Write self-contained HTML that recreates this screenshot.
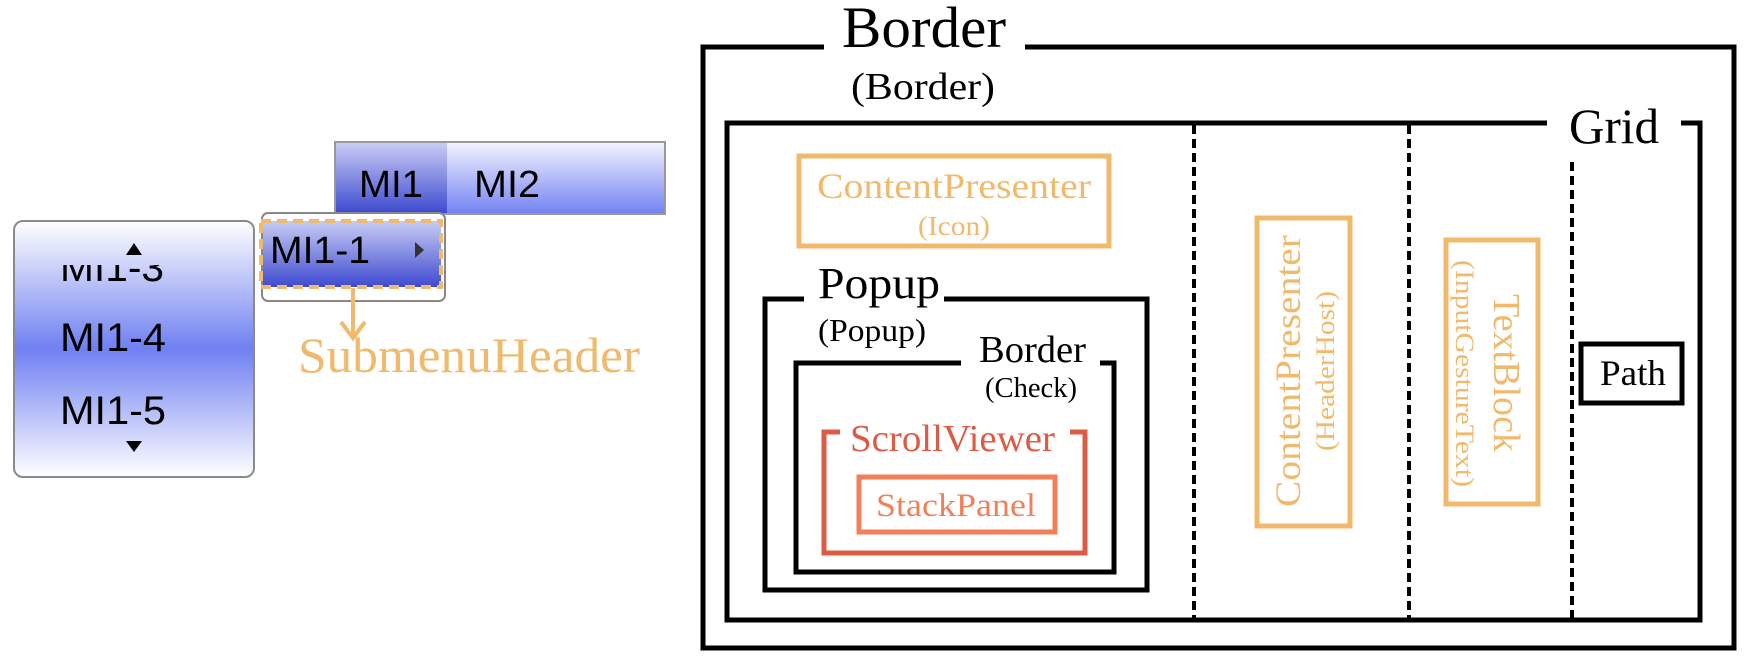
<!DOCTYPE html>
<html><head><meta charset="utf-8"><style>
html,body{margin:0;padding:0;background:#fff;}
svg{display:block;}
text{font-family:"Liberation Serif",serif;}
.m{font-family:"Liberation Sans",sans-serif;}
</style></head><body>
<svg width="1751" height="663" viewBox="0 0 1751 663" xmlns="http://www.w3.org/2000/svg">
<defs>
<linearGradient id="g1" x1="0" y1="0" x2="0" y2="1">
<stop offset="0" stop-color="#f4f4ff"/><stop offset="1" stop-color="#7282f2"/></linearGradient>
<linearGradient id="g2" x1="0" y1="0" x2="0" y2="1">
<stop offset="0" stop-color="#c8ccf4"/><stop offset="1" stop-color="#3e4ad0"/></linearGradient>
<linearGradient id="g3" x1="0" y1="0" x2="0" y2="1">
<stop offset="0" stop-color="#ffffff"/><stop offset="0.5" stop-color="#6f80f2"/><stop offset="1" stop-color="#ffffff"/></linearGradient>
<clipPath id="cp"><rect x="15" y="265" width="238" height="30"/></clipPath>
</defs>

<!-- left popup -->
<rect x="14" y="221" width="240" height="256" rx="9" fill="url(#g3)" stroke="#8a8a8a" stroke-width="2"/>
<polygon points="134,243 126,255 142,255" fill="#000"/>
<g clip-path="url(#cp)"><text class="m" x="60" y="281" font-size="40" textLength="104" lengthAdjust="spacingAndGlyphs">MI1-3</text></g>
<text class="m" x="60" y="351" font-size="40" textLength="106" lengthAdjust="spacingAndGlyphs">MI1-4</text>
<text class="m" x="60" y="424" font-size="40" textLength="106" lengthAdjust="spacingAndGlyphs">MI1-5</text>
<polygon points="126,441 142,441 134,452" fill="#000"/>

<!-- menu bar -->
<rect x="335" y="142" width="330" height="72" fill="url(#g1)" stroke="#999" stroke-width="2"/>
<rect x="336" y="143" width="111" height="70" fill="url(#g2)"/>
<text class="m" x="359" y="197" font-size="38" textLength="64" lengthAdjust="spacingAndGlyphs">MI1</text>
<text class="m" x="474" y="197" font-size="38" textLength="66" lengthAdjust="spacingAndGlyphs">MI2</text>

<!-- dropdown -->
<rect x="262" y="213" width="183" height="88" rx="6" fill="#fff" stroke="#888" stroke-width="2"/>
<rect x="263" y="221" width="178" height="66" fill="url(#g2)"/>
<text class="m" x="270" y="263" font-size="38" textLength="100" lengthAdjust="spacingAndGlyphs">MI1-1</text>
<polygon points="415,242 415,258 424,250" fill="#333"/>
<rect x="261" y="221" width="180" height="66" fill="none" stroke="#f0b96b" stroke-width="4" stroke-dasharray="10,6"/>
<line x1="353" y1="288" x2="353" y2="336" stroke="#f0b96b" stroke-width="4"/>
<polyline points="341,322 353,338 365,322" fill="none" stroke="#f0b96b" stroke-width="4"/>
<text x="298" y="372" font-size="50" fill="#f0b96b" textLength="342" lengthAdjust="spacingAndGlyphs">SubmenuHeader</text>

<!-- outer Border -->
<path d="M824,47 H703 V648 H1734 V47 H1025" fill="none" stroke="#000" stroke-width="5"/>
<text x="842" y="47" font-size="58" textLength="164" lengthAdjust="spacingAndGlyphs">Border</text>
<text x="851" y="99" font-size="38" textLength="144" lengthAdjust="spacingAndGlyphs">(Border)</text>

<!-- Grid -->
<path d="M1547,123 H727 V620 H1700 V123 H1681" fill="none" stroke="#000" stroke-width="5"/>
<text x="1569" y="143" font-size="50" textLength="90" lengthAdjust="spacingAndGlyphs">Grid</text>
<line x1="1194" y1="125" x2="1194" y2="618" stroke="#000" stroke-width="4" stroke-dasharray="9,5"/>
<line x1="1409" y1="125" x2="1409" y2="618" stroke="#000" stroke-width="4" stroke-dasharray="9,5"/>
<line x1="1572" y1="162" x2="1572" y2="618" stroke="#000" stroke-width="4" stroke-dasharray="9,5"/>

<!-- CP Icon -->
<rect x="799" y="156" width="310" height="90" fill="none" stroke="#f0b96b" stroke-width="5"/>
<text x="817" y="198" font-size="36" fill="#f0b96b" textLength="274" lengthAdjust="spacingAndGlyphs">ContentPresenter</text>
<text x="918" y="235" font-size="27" fill="#f0b96b" textLength="72" lengthAdjust="spacingAndGlyphs">(Icon)</text>

<!-- Popup -->
<path d="M804,299 H765 V590 H1147 V299 H944" fill="none" stroke="#000" stroke-width="5"/>
<text x="818" y="298" font-size="44" textLength="122" lengthAdjust="spacingAndGlyphs">Popup</text>
<text x="818" y="341" font-size="32" textLength="108" lengthAdjust="spacingAndGlyphs">(Popup)</text>

<!-- Border Check -->
<path d="M961,363 H796 V572 H1114 V363 H1100" fill="none" stroke="#000" stroke-width="5"/>
<text x="979" y="362" font-size="38" textLength="107" lengthAdjust="spacingAndGlyphs">Border</text>
<text x="985" y="397" font-size="28" textLength="92" lengthAdjust="spacingAndGlyphs">(Check)</text>

<!-- ScrollViewer -->
<path d="M840,432 H824 V553 H1085 V432 H1070" fill="none" stroke="#dd5a45" stroke-width="5"/>
<text x="850" y="451" font-size="38" fill="#dd5a45" textLength="205" lengthAdjust="spacingAndGlyphs">ScrollViewer</text>

<!-- StackPanel -->
<rect x="859" y="477" width="196" height="55" fill="none" stroke="#f27f5a" stroke-width="5"/>
<text x="876" y="516" font-size="33" fill="#f27f5a" textLength="160" lengthAdjust="spacingAndGlyphs">StackPanel</text>

<!-- CP HeaderHost vertical -->
<rect x="1257" y="218" width="93" height="308" fill="none" stroke="#f0b96b" stroke-width="5"/>
<text transform="translate(1300,507) rotate(-90)" font-size="36" fill="#f0b96b" textLength="272" lengthAdjust="spacingAndGlyphs">ContentPresenter</text>
<text transform="translate(1334,451) rotate(-90)" font-size="26" fill="#f0b96b" textLength="160" lengthAdjust="spacingAndGlyphs">(HeaderHost)</text>

<!-- TextBlock vertical -->
<rect x="1446" y="240" width="92" height="264" fill="none" stroke="#f0b96b" stroke-width="5"/>
<text transform="translate(1494,294) rotate(90)" font-size="38" fill="#f0b96b" textLength="158" lengthAdjust="spacingAndGlyphs">TextBlock</text>
<text transform="translate(1456,260) rotate(90)" font-size="26" fill="#f0b96b" textLength="227" lengthAdjust="spacingAndGlyphs">(InputGestureText)</text>

<!-- Path -->
<rect x="1581" y="344" width="101" height="59" fill="none" stroke="#000" stroke-width="5"/>
<text x="1600" y="385" font-size="36" textLength="66" lengthAdjust="spacingAndGlyphs">Path</text>
</svg>
</body></html>
